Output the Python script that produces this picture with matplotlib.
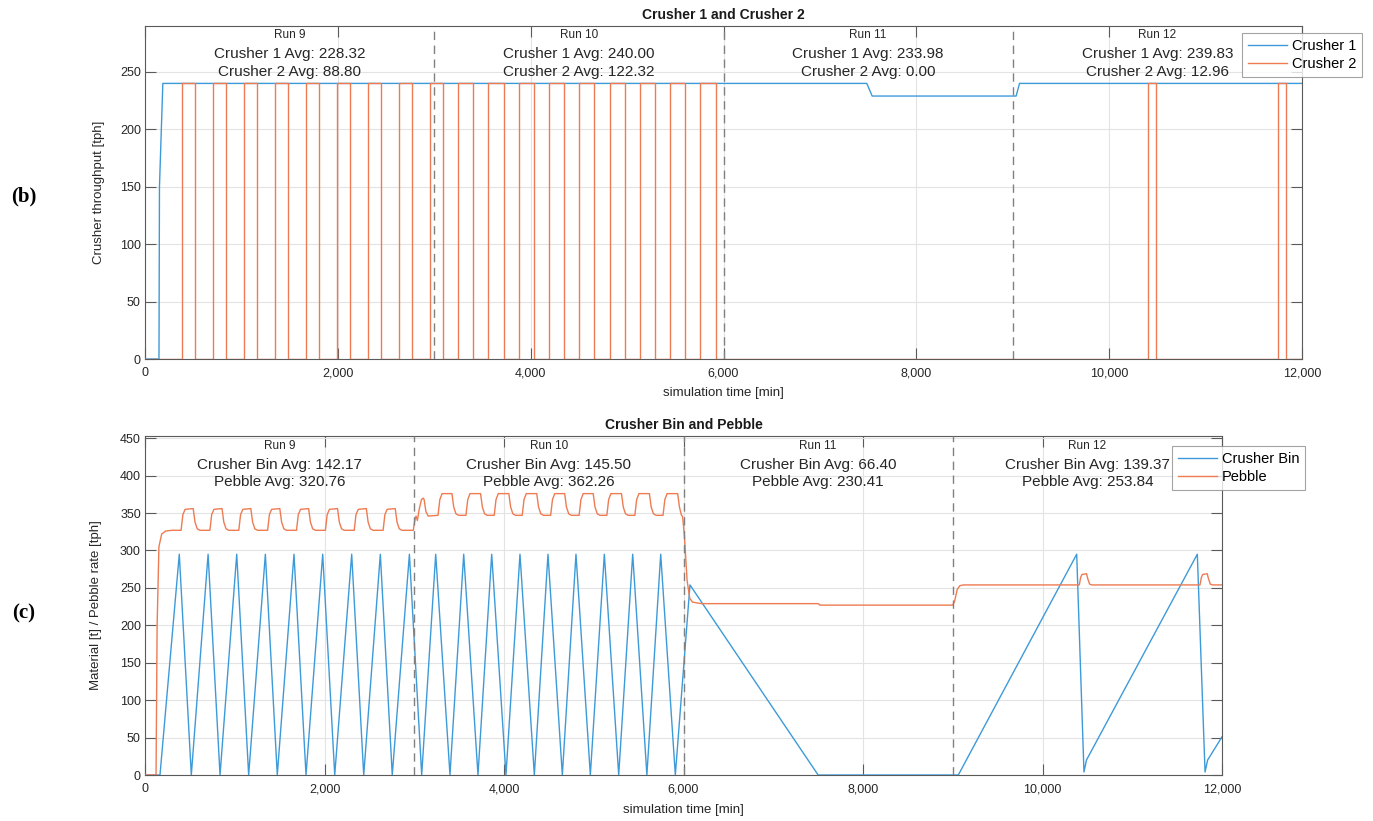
import matplotlib
matplotlib.use('Agg')
import matplotlib.pyplot as plt
from matplotlib.ticker import FuncFormatter, MultipleLocator

plt.rcParams['font.family'] = ['Liberation Sans', 'DejaVu Sans']

# ---------------- data ----------------
run_names = ['Run 9', 'Run 10', 'Run 11', 'Run 12']
run_centers = [1500, 4500, 7500, 10500]
run_bounds = [3000, 6000, 9000]
crusher1_avg = [228.32, 240.00, 233.98, 239.83]
crusher2_avg = [88.80, 122.32, 0.00, 12.96]
bin_avg = [142.17, 145.50, 66.40, 139.37]
pebble_avg = [320.76, 362.26, 230.41, 253.84]

# Crusher 1 throughput breakpoints [min], [tph]
c1_t = [0, 145, 150, 185, 7486, 7542, 9035, 9070, 12000]
c1_v = [0, 0, 150, 240, 240, 229, 229, 240, 240]

# Crusher 2 on/off switching times [min], on level [tph]
c2_on = [387, 708, 1030, 1351, 1673, 1995, 2316, 2638, 2960,
         3250, 3561, 3876, 4188, 4505, 4822, 5131, 5443, 5757,
         10398, 11746]
c2_off = [522, 843, 1164, 1487, 1808, 2130, 2451, 2773, 3095,
          3405, 3724, 4039, 4350, 4661, 4979, 5294, 5605, 5920,
          10481, 11829]
c2_level = 240

# Crusher bin material breakpoints [min], [t]
bin_t = [0, 167, 382, 516, 703, 836, 1022, 1155, 1341, 1474, 1660, 1794,
         1980, 2114, 2303, 2437, 2622, 2755, 2946, 3083, 3239, 3398, 3551,
         3710, 3863, 4022, 4178, 4338, 4490, 4650, 4802, 4962, 5118, 5278,
         5434, 5592, 5746, 5909, 6072, 7500, 9062, 10381, 10462, 10490,
         11725, 11811, 11840, 12000]
bin_v = [0, 0, 295, 0, 295, 0, 295, 0, 295, 0, 295, 0,
         295, 0, 295, 0, 295, 0, 295, 0, 295, 0, 295,
         0, 295, 0, 295, 0, 295, 0, 295, 0, 295, 0,
         295, 0, 295, 0, 254, 0, 0, 295, 4, 20,
         295, 4, 20, 51]

# Pebble rate breakpoints [min], [tph]
pebble_t = [0, 123, 135, 155, 186, 230, 300,
            402, 422, 447, 537, 557, 582, 612,
            723, 743, 768, 858, 878, 903, 933,
            1045, 1065, 1090, 1179, 1199, 1224, 1254,
            1366, 1386, 1411, 1502, 1522, 1547, 1577,
            1688, 1708, 1733, 1823, 1843, 1868, 1898,
            2010, 2030, 2055, 2145, 2165, 2190, 2220,
            2331, 2351, 2376, 2466, 2486, 2511, 2541,
            2653, 2673, 2698, 2788, 2808, 2833, 2863,
            2990, 3000, 3010, 3020, 3035, 3055, 3080, 3100, 3110, 3130, 3155,
            3265, 3285, 3310, 3420, 3440, 3465, 3495,
            3576, 3596, 3621, 3739, 3759, 3784, 3814,
            3891, 3911, 3936, 4054, 4074, 4099, 4129,
            4203, 4223, 4248, 4365, 4385, 4410, 4440,
            4520, 4540, 4565, 4676, 4696, 4721, 4751,
            4837, 4857, 4882, 4994, 5014, 5039, 5069,
            5146, 5166, 5191, 5309, 5329, 5354, 5384,
            5458, 5478, 5503, 5620, 5640, 5665, 5695,
            5772, 5792, 5817, 5935, 5955, 5975, 5990, 6010, 6040, 6070, 6100,
            6200, 7500, 7520, 9000, 9020, 9050, 9080, 9120,
            10410, 10425, 10440, 10490, 10505, 10525, 10550,
            11755, 11770, 11785, 11835, 11850, 11870, 11895, 12000]
pebble_v = [0, 0, 200, 305, 322, 326, 327,
            327, 348, 355, 356, 338, 329, 327,
            327, 348, 355, 356, 338, 329, 327,
            327, 348, 355, 356, 338, 329, 327,
            327, 348, 355, 356, 338, 329, 327,
            327, 348, 355, 356, 338, 329, 327,
            327, 348, 355, 356, 338, 329, 327,
            327, 348, 355, 356, 338, 329, 327,
            327, 348, 355, 356, 338, 329, 327,
            327, 336, 342, 346, 340, 355, 368, 370, 368, 352, 346,
            347, 368, 376, 376, 358, 349, 347,
            347, 368, 376, 376, 358, 349, 347,
            347, 368, 376, 376, 358, 349, 347,
            347, 368, 376, 376, 358, 349, 347,
            347, 368, 376, 376, 358, 349, 347,
            347, 368, 376, 376, 358, 349, 347,
            347, 368, 376, 376, 358, 349, 347,
            347, 368, 376, 376, 358, 349, 347,
            347, 368, 376, 376, 358, 348, 345, 320, 260, 236, 231,
            229, 229, 227, 227, 232, 248, 253, 254,
            254, 264, 268, 269, 262, 255, 254,
            254, 264, 268, 269, 262, 255, 254, 254]

# ---------------- style ----------------
BLUE = '#3D9AD9'
ORANGE = '#EE7B52'
GRID = '#e3e3e3'
FRAME = '#5a5a5a'
DASH = '#808080'

fig = plt.figure(figsize=(13.73, 8.21), dpi=100)
W, H = 1373, 821


def ax_rect(x0, y0, x1, y1):
    return [x0 / W, 1 - y1 / H, (x1 - x0) / W, (y1 - y0) / H]


ax1 = fig.add_axes(ax_rect(145, 26, 1302, 359))
ax2 = fig.add_axes(ax_rect(145, 436, 1222, 775))

comma_fmt = FuncFormatter(lambda v, p: f'{int(v):,}')


def style(ax, ymax, ystep):
    ax.set_xlim(0, 12000)
    ax.set_ylim(0, ymax)
    ax.xaxis.set_major_locator(MultipleLocator(2000))
    ax.yaxis.set_major_locator(MultipleLocator(ystep))
    ax.xaxis.set_major_formatter(comma_fmt)
    ax.grid(True, color=GRID, lw=0.8)
    ax.set_axisbelow(True)
    ax.tick_params(direction='in', top=True, right=True, length=8,
                   width=0.8, color=FRAME, labelsize=9, labelcolor='#262626')
    ax.tick_params(axis='x', pad=6)
    ax.tick_params(axis='y', pad=3)
    for s in ax.spines.values():
        s.set_color(FRAME)
        s.set_linewidth(0.8)
    for b in run_bounds:
        ax.axvline(b, color=DASH, lw=1.0, ls=(0, (6, 4)), zorder=5)
    ax.set_xlabel('simulation time [min]', fontsize=9.5, color='#262626')
    ax.xaxis.set_label_coords(0.5, -0.085)


def legend(ax, x0, y0):
    h, l = ax.get_legend_handles_labels()
    leg = fig.legend(h, l, loc='upper left', bbox_to_anchor=(x0 / W, 1 - y0 / H),
                     fontsize=10.5, frameon=True, fancybox=False, edgecolor='#8c8c8c',
                     handlelength=2.7, handletextpad=0.3, borderpad=0.4,
                     labelspacing=0.3, borderaxespad=0)
    leg.get_frame().set_linewidth(0.8)
    return leg


# ---- top panel ----
style(ax1, 290, 50)
ax1.plot(c1_t, c1_v, color=BLUE, lw=1.0, label='Crusher 1', zorder=3)
c2_t = [0]
c2_v = [0]
for on, off in zip(c2_on, c2_off):
    c2_t += [on, off]
    c2_v += [c2_level, 0]
c2_t.append(12000)
c2_v.append(0)
ax1.step(c2_t, c2_v, where='post', color=ORANGE, lw=1.0, label='Crusher 2', zorder=4)
ax1.set_ylabel('Crusher throughput [tph]', fontsize=9.5, color='#262626')
ax1.yaxis.set_label_coords((105 - 145) / 1157, 0.5)
ax1.text(0.5, 1.033, 'Crusher 1 and Crusher 2', transform=ax1.transAxes,
         ha='center', va='center', fontsize=10, fontweight='bold', color='#1a1a1a')
for i in range(4):
    ax1.text(run_centers[i], 282, run_names[i], ha='center', va='center',
             fontsize=8.5, color='#262626')
    ax1.text(run_centers[i], 265.5, f'Crusher 1 Avg: {crusher1_avg[i]:.2f}',
             ha='center', va='center', fontsize=11, color='#262626')
    ax1.text(run_centers[i], 250, f'Crusher 2 Avg: {crusher2_avg[i]:.2f}',
             ha='center', va='center', fontsize=11, color='#262626')
legend(ax1, 1242, 33)

# ---- bottom panel ----
style(ax2, 453, 50)
ax2.plot(bin_t, bin_v, color=BLUE, lw=1.0, label='Crusher Bin', zorder=3)
ax2.plot(pebble_t, pebble_v, color=ORANGE, lw=1.0, label='Pebble', zorder=4)
ax2.set_ylabel('Material [t] / Pebble rate [tph]', fontsize=9.5, color='#262626')
ax2.yaxis.set_label_coords((102 - 145) / 1077, 0.5)
ax2.text(0.5, 1.033, 'Crusher Bin and Pebble', transform=ax2.transAxes,
         ha='center', va='center', fontsize=10, fontweight='bold', color='#1a1a1a')
for i in range(4):
    ax2.text(run_centers[i], 439, run_names[i], ha='center', va='center',
             fontsize=8.5, color='#262626')
    ax2.text(run_centers[i], 414, f'Crusher Bin Avg: {bin_avg[i]:.2f}',
             ha='center', va='center', fontsize=11, color='#262626')
    ax2.text(run_centers[i], 391.5, f'Pebble Avg: {pebble_avg[i]:.2f}',
             ha='center', va='center', fontsize=11, color='#262626')
legend(ax2, 1172, 446)

# panel letters
fig.text(24 / W, 1 - 196 / H, '(b)', ha='center', va='center', fontsize=15,
         fontweight='bold', family=['Liberation Serif', 'DejaVu Serif'])
fig.text(24 / W, 1 - 613 / H, '(c)', ha='center', va='center', fontsize=15,
         fontweight='bold', family=['Liberation Serif', 'DejaVu Serif'])

fig.savefig('out.png', dpi=100)
